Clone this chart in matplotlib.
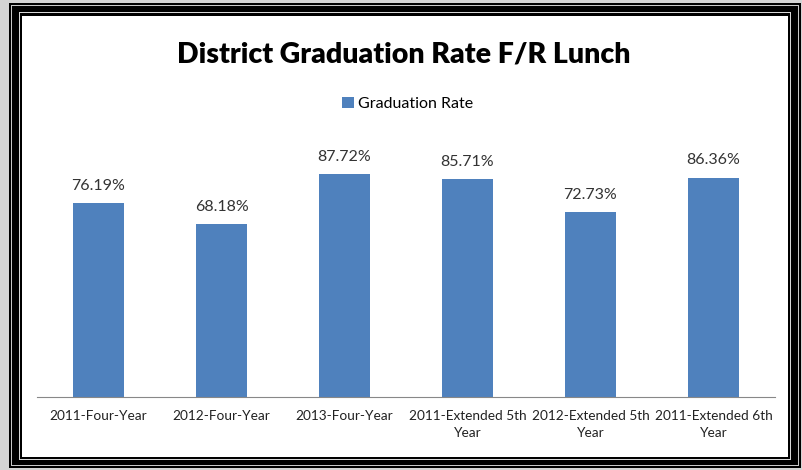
import matplotlib.pyplot as plt
from matplotlib.patches import Rectangle

categories = ["2011-Four-Year", "2012-Four-Year", "2013-Four-Year",
              "2011-Extended 5th\nYear", "2012-Extended 5th\nYear",
              "2011-Extended 6th\nYear"]
rates = [76.19, 68.18, 87.72, 85.71, 72.73, 86.36]

plt.rcParams['font.family'] = ['Lato', 'DejaVu Sans']

fig = plt.figure(figsize=(8.02, 4.70), dpi=100)
fig.patch.set_facecolor('#d4d4d4')

# frame: white panel with double black border
W, H = 802, 470
def frect(x0, y0, x1, y1, color):
    fig.patches.append(Rectangle((x0 / W, 1 - y1 / H), (x1 - x0) / W, (y1 - y0) / H,
                                 transform=fig.transFigure, facecolor=color,
                                 edgecolor='none', zorder=-5))

frect(9, 3, 801, 468, 'black')
frect(11, 5, 799, 466, '#c8c8c8')
frect(12, 6, 798, 465, 'black')
frect(19, 12, 791, 460, '#d8d8d8')
frect(20, 13, 790, 459, 'black')
frect(22, 16, 788, 457, 'white')

ax = fig.add_axes([37 / W, 1 - 397 / H, 738 / W, 254 / H])
ax.set_facecolor('none')
x = range(len(categories))
bars = ax.bar(x, rates, width=0.41, color='#4F81BD', label='Graduation Rate')
for xi, v in zip(x, rates):
    ax.text(xi, v + 4, f"{v:.2f}%", ha='center', va='bottom',
            fontsize=11.5, color='#333333')

ax.set_xlim(-0.5, len(categories) - 0.5)
ax.set_ylim(0, 100)
ax.set_xticks(list(x))
ax.set_xticklabels(categories, fontsize=9.8, color='#222222', linespacing=1.55)
ax.tick_params(axis='x', length=0, pad=9)
ax.set_yticks([])
for s in ['left', 'right', 'top']:
    ax.spines[s].set_visible(False)
ax.spines['bottom'].set_color('#888888')

fig.text(404 / W, 1 - 54 / H, "District Graduation Rate F/R Lunch",
         ha='center', va='center', fontsize=20.5, fontweight='heavy', color='black')
fig.legend(handles=[bars], loc='center', bbox_to_anchor=(408 / W, 1 - 104 / H),
           frameon=False, fontsize=11.5, handlelength=0.7, handleheight=0.7,
           handletextpad=0.3)

fig.savefig('out.png', dpi=100, facecolor=fig.get_facecolor())
